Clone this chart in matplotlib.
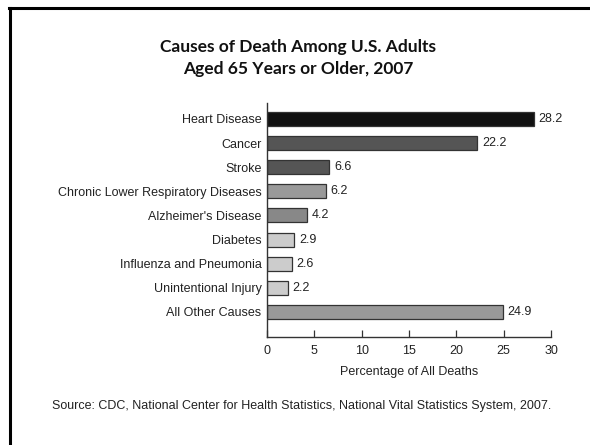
import matplotlib.pyplot as plt
from matplotlib.lines import Line2D

# data
causes = ["Heart Disease", "Cancer", "Stroke", "Chronic Lower Respiratory Diseases",
          "Alzheimer's Disease", "Diabetes", "Influenza and Pneumonia",
          "Unintentional Injury", "All Other Causes"]
percent = [28.2, 22.2, 6.6, 6.2, 4.2, 2.9, 2.6, 2.2, 24.9]
value_labels = ["28.2", "22.2", "6.6", "6.2", "4.2", "2.9", "2.6", "2.2", "24.9"]
bar_colors = ["#111111", "#555555", "#555555", "#999999", "#888888",
              "#cccccc", "#cccccc", "#cccccc", "#999999"]
x_ticks = [0, 5, 10, 15, 20, 25, 30]

plt.rcParams['font.family'] = ['Liberation Sans', 'DejaVu Sans']
fs = 9

fig = plt.figure(figsize=(5.9, 4.45), dpi=100)
ax = fig.add_axes([0.4525, 0.2427, 0.4815, 0.5258])

ypos = list(range(len(causes)))
ax.barh(ypos, percent, height=0.58, color=bar_colors, edgecolor="#333333", linewidth=0.9)
for y, v, lab in zip(ypos, percent, value_labels):
    ax.text(v + 0.5, y, lab, va="center", ha="left", fontsize=fs, color="#222222")

ax.set_yticks(ypos)
ax.set_yticklabels(causes, fontsize=fs, color="#222222")
ax.set_ylim(len(causes) - 1 + 1.04, -0.66)
ax.set_xlim(0, 30)
ax.set_xticks(x_ticks)
ax.set_xticklabels([str(t) for t in x_ticks], fontsize=fs, color="#222222")
ax.tick_params(axis="y", length=0, pad=4)
ax.tick_params(axis="x", direction="in", length=5, width=0.9, pad=6, color="#333333")
ax.spines["top"].set_visible(False)
ax.spines["right"].set_visible(False)
for s in ("left", "bottom"):
    ax.spines[s].set_linewidth(1.0)
    ax.spines[s].set_color("#333333")
ax.set_xlabel("Percentage of All Deaths", fontsize=fs, color="#222222", labelpad=6)

fig.text(0.505, 0.895, "Causes of Death Among U.S. Adults", ha="center", va="center",
         fontsize=12.5, fontweight="bold", family=["Lato", "DejaVu Sans"], color="#111111")
fig.text(0.505, 0.845, "Aged 65 Years or Older, 2007", ha="center", va="center",
         fontsize=12.5, fontweight="bold", family=["Lato", "DejaVu Sans"], color="#111111")

fig.text(0.512, 0.087, "Source: CDC, National Center for Health Statistics, National Vital Statistics System, 2007.",
         ha="center", va="center", fontsize=fs, color="#222222")

# black frame, cut off at right and bottom
fig.add_artist(Line2D([10 / 590, 10 / 590], [0, 1 - 8 / 445], transform=fig.transFigure,
                      color="black", linewidth=2.2))
fig.add_artist(Line2D([9 / 590, 1], [1 - 8 / 445, 1 - 8 / 445], transform=fig.transFigure,
                      color="black", linewidth=2.2))

fig.savefig("out.png", dpi=100)
